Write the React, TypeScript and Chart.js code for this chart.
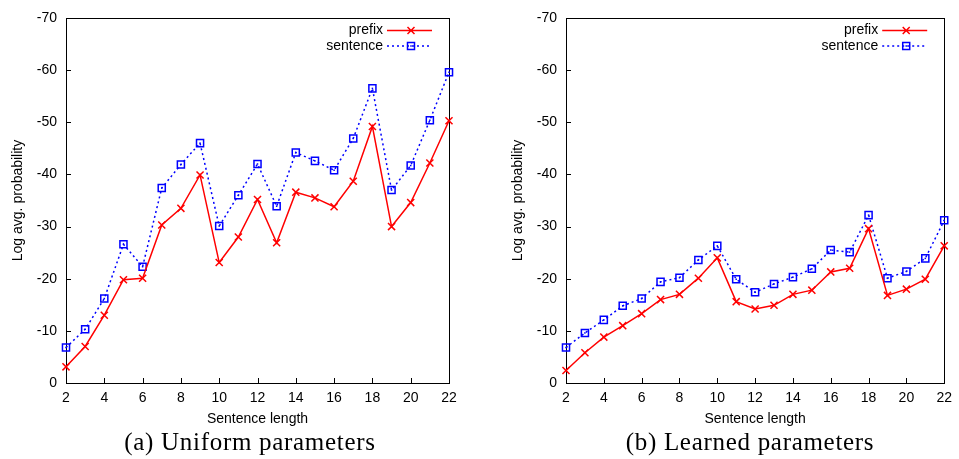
import React, { useEffect, useRef } from "react";
import { Chart, registerables } from "chart.js";

Chart.register(...registerables);

const lengths = [2, 3, 4, 5, 6, 7, 8, 9, 10, 11, 12, 13, 14, 15, 16, 17, 18, 19, 20, 21, 22];

const uniformPrefix = [-3.1, -7.0, -13.0, -19.8, -20.1, -30.3, -33.5, -39.9, -23.1, -28.0, -35.2, -26.9, -36.6, -35.5, -33.8, -38.7, -49.2, -30.0, -34.6, -42.2, -50.3];
const uniformSentence = [-6.8, -10.3, -16.2, -26.6, -22.3, -37.4, -41.9, -46.0, -30.1, -36.0, -42.0, -33.9, -44.2, -42.6, -40.8, -46.9, -56.5, -37.0, -41.7, -50.4, -59.6];

const learnedPrefix = [-2.4, -5.8, -8.8, -11.0, -13.3, -16.0, -17.0, -20.1, -24.0, -15.6, -14.2, -14.9, -17.0, -17.8, -21.3, -22.0, -29.6, -16.8, -18.0, -19.9, -26.3];
const learnedSentence = [-6.8, -9.6, -12.1, -14.8, -16.2, -19.4, -20.2, -23.6, -26.3, -19.9, -17.4, -19.0, -20.3, -21.9, -25.5, -25.1, -32.2, -20.1, -21.4, -23.9, -31.2];

const xTicks = [2, 4, 6, 8, 10, 12, 14, 16, 18, 20, 22];
const yTicks = [0, -10, -20, -30, -40, -50, -60, -70];
const seriesNames = ["prefix", "sentence"];
const xTitle = "Sentence length";
const yTitle = "Log avg. probability";
const captions = ["(a) Uniform parameters", "(b) Learned parameters"];

const RED = "#ff0000";
const BLUE = "#0000ff";
const SANS = '"Liberation Sans", Arial, sans-serif';

const framePlugin = {
  id: "gnuframe",
  beforeDatasetsDraw(chart: any) {
    const { ctx, chartArea } = chart;
    const { left, right, top, bottom } = chartArea;
    ctx.save();
    ctx.strokeStyle = "#000";
    ctx.lineWidth = 1;
    ctx.setLineDash([]);
    ctx.strokeRect(Math.round(left) + 0.5, Math.round(top) + 0.5, Math.round(right - left), Math.round(bottom - top));
    const xs = chart.scales.x;
    const ys = chart.scales.y;
    ctx.beginPath();
    xs.ticks.forEach((t: any) => {
      const px = Math.round(xs.getPixelForValue(t.value)) + 0.5;
      ctx.moveTo(px, bottom);
      ctx.lineTo(px, bottom - 5);
    });
    ys.ticks.forEach((t: any) => {
      const py = Math.round(ys.getPixelForValue(t.value)) + 0.5;
      ctx.moveTo(left, py);
      ctx.lineTo(left + 5, py);
    });
    ctx.stroke();
    ctx.restore();
  },
  afterDatasetsDraw(chart: any) {
    const { ctx } = chart;
    const meta = chart.getDatasetMeta(1);
    ctx.save();
    ctx.fillStyle = BLUE;
    meta.data.forEach((p: any) => {
      ctx.fillRect(p.x - 0.75, p.y - 0.75, 1.5, 1.5);
    });
    ctx.restore();
  },
  afterDraw(chart: any) {
    const { ctx, chartArea } = chart;
    const { right, top } = chartArea;
    ctx.save();
    ctx.font = "14px " + SANS;
    ctx.textAlign = "right";
    ctx.textBaseline = "middle";
    ctx.fillStyle = "#000";
    seriesNames.forEach((name, i) => {
      const y = top + 12.5 + i * 15.5;
      ctx.fillText(name, right - 66, y);
      const mx = right - 38;
      if (i === 0) {
        ctx.strokeStyle = RED;
        ctx.lineWidth = 1.5;
        ctx.setLineDash([]);
        ctx.beginPath();
        ctx.moveTo(right - 62, y);
        ctx.lineTo(right - 17, y);
        ctx.moveTo(mx - 3.5, y - 3.5);
        ctx.lineTo(mx + 3.5, y + 3.5);
        ctx.moveTo(mx - 3.5, y + 3.5);
        ctx.lineTo(mx + 3.5, y - 3.5);
        ctx.stroke();
      } else {
        ctx.strokeStyle = BLUE;
        ctx.lineWidth = 1.5;
        ctx.setLineDash([2, 3]);
        ctx.beginPath();
        ctx.moveTo(right - 62, y);
        ctx.lineTo(right - 17, y);
        ctx.stroke();
        ctx.setLineDash([]);
        ctx.strokeRect(mx - 3.5, y - 3.5, 7, 7);
        ctx.fillStyle = BLUE;
        ctx.fillRect(mx - 0.75, y - 0.75, 1.5, 1.5);
      }
    });
    ctx.restore();
  },
};

function Panel(props: { left: number; width: number; padRight: number; prefix: number[]; sentence: number[]; caption: string }) {
  const ref = useRef<HTMLCanvasElement>(null);
  useEffect(() => {
    const chart = new Chart(ref.current as HTMLCanvasElement, {
      type: "line",
      data: {
        datasets: [
          {
            label: seriesNames[0],
            data: lengths.map((x, i) => ({ x, y: props.prefix[i] })),
            borderColor: RED,
            backgroundColor: RED,
            borderWidth: 1.5,
            pointStyle: "crossRot",
            pointRadius: 5,
            pointBorderWidth: 1.5,
            pointBorderColor: RED,
            fill: false,
            tension: 0,
            clip: false as any,
          },
          {
            label: seriesNames[1],
            data: lengths.map((x, i) => ({ x, y: props.sentence[i] })),
            borderColor: BLUE,
            backgroundColor: "rgba(0,0,0,0)",
            borderWidth: 1.5,
            borderDash: [2, 3],
            pointStyle: "rect",
            pointRadius: 5,
            pointBorderWidth: 1.5,
            pointBorderColor: BLUE,
            fill: false,
            tension: 0,
            clip: false as any,
          },
        ],
      },
      options: {
        animation: false,
        responsive: false,
        devicePixelRatio: window.devicePixelRatio || 1,
        layout: { padding: { left: 0, top: 18, right: props.padRight, bottom: 0 } },
        plugins: { legend: { display: false }, tooltip: { enabled: false } },
        scales: {
          x: {
            type: "linear",
            min: 2,
            max: 22,
            afterBuildTicks: (scale: any) => {
              scale.ticks = xTicks.map((v) => ({ value: v }));
            },
            afterFit: (scale: any) => {
              scale.height = 47;
            },
            grid: { display: false, drawTicks: false },
            border: { display: false },
            ticks: { color: "#000", padding: 7, font: { family: SANS, size: 14 }, maxRotation: 0, autoSkip: false },
            title: { display: true, text: xTitle, color: "#000", font: { family: SANS, size: 14 }, padding: { top: 0, bottom: 2.5 } },
          },
          y: {
            type: "linear",
            min: -70,
            max: 0,
            reverse: true,
            afterBuildTicks: (scale: any) => {
              scale.ticks = yTicks.map((v) => ({ value: v }));
            },
            afterFit: (scale: any) => {
              scale.width = 66;
            },
            grid: { display: false, drawTicks: false },
            border: { display: false },
            ticks: { color: "#000", padding: 9, font: { family: SANS, size: 14 }, autoSkip: false },
            title: { display: true, text: yTitle, color: "#000", font: { family: SANS, size: 14 }, padding: { top: 9.6, bottom: 0 } },
          },
        },
      },
      plugins: [framePlugin],
    } as any);
    return () => chart.destroy();
  }, []);
  return (
    <div style={{ position: "absolute", left: props.left, top: 0, width: props.width, height: 459 }}>
      <canvas ref={ref} width={props.width} height={430} style={{ display: "block" }} />
      <div
        style={{
          position: "absolute",
          left: 0,
          width: 500,
          textAlign: "center",
          top: 428,
          lineHeight: "28px",
          fontFamily: '"Liberation Serif", "Times New Roman", serif',
          fontSize: 25,
          letterSpacing: 0.7,
          color: "#000",
          whiteSpace: "nowrap",
        }}
      >
        {props.caption}
      </div>
    </div>
  );
}

export default function App() {
  return (
    <div style={{ position: "absolute", left: 0, top: 0, width: 959, height: 459, overflow: "hidden", background: "#fff" }}>
      <Panel left={0} width={470} padRight={21} prefix={uniformPrefix} sentence={uniformSentence} caption={captions[0]} />
      <Panel left={500} width={459} padRight={10} prefix={learnedPrefix} sentence={learnedSentence} caption={captions[1]} />
    </div>
  );
}
